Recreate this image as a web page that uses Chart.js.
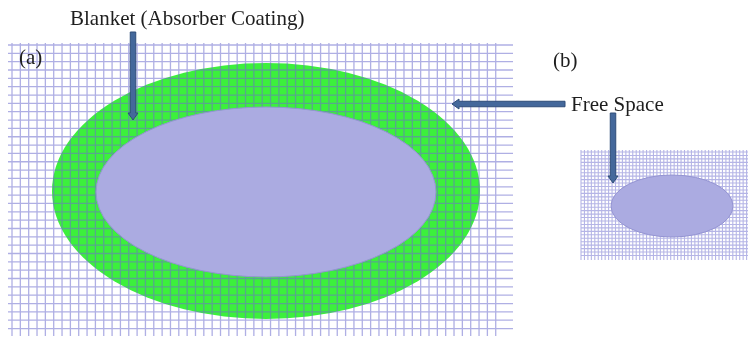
<!DOCTYPE html>
<html>
<head>
<meta charset="utf-8">
<script src="https://cdn.jsdelivr.net/npm/chart.js@4/dist/chart.umd.min.js"></script>
<style>
  html, body { margin: 0; padding: 0; background: #ffffff; }
  #wrap { width: 748px; height: 340px; }
</style>
</head>
<body>
<div id="wrap"><canvas id="c" width="748" height="340"></canvas></div>
<script>
// Panel labels and callout texts
const panelLabels = ['(a)', '(b)'];
const calloutTexts = ['Blanket (Absorber Coating)', 'Free Space'];

// Mesh extents per panel: [xStart, xEnd, yStart, yEnd, cell]
const meshA = [12, 504, 45, 334, 8.34];
const meshB = [581, 748, 152, 258, 3.45];

// Regions: [cx, cy, rx, ry]
const blanketRegion = [266, 191, 214, 128];
const scatterRegionA = [266, 192, 170, 85];
const scatterRegionB = [672, 206, 61, 31];

// Arrows: [x1, y1, x2, y2] (tail -> tip)
const arrows = [
  [133, 32, 133, 120],
  [565, 104, 452, 104],
  [613, 113, 613, 183]
];

// Build a mesh as one polyline with gaps between its segments
function meshPoints(m, hExtra) {
  const [x0, x1, y0, y1, cell] = m;
  const pts = [];
  for (let x = x0; x <= x1 + 0.01; x += cell) {
    pts.push({x: x, y: y0 - 2}, {x: x, y: y1 + 2}, {x: x, y: null});
  }
  for (let y = y0; y <= y1 + 0.01; y += cell) {
    pts.push({x: x0 - hExtra[0], y: y}, {x: x1 + hExtra[1], y: y}, {x: x1, y: null});
  }
  return pts;
}

function ellipse(ctx, chart, e, fill, stroke) {
  const sx = chart.scales.x, sy = chart.scales.y;
  const cx = sx.getPixelForValue(e[0]), cy = sy.getPixelForValue(e[1]);
  const rx = Math.abs(sx.getPixelForValue(e[0] + e[2]) - cx);
  const ry = Math.abs(sy.getPixelForValue(e[1] + e[3]) - cy);
  ctx.beginPath();
  ctx.ellipse(cx, cy, rx, ry, 0, 0, Math.PI * 2);
  ctx.fillStyle = fill;
  ctx.fill();
  if (stroke) { ctx.strokeStyle = stroke; ctx.lineWidth = 1; ctx.stroke(); }
}

function arrow(ctx, chart, a) {
  const sx = chart.scales.x, sy = chart.scales.y;
  const x1 = sx.getPixelForValue(a[0]), y1 = sy.getPixelForValue(a[1]);
  const x2 = sx.getPixelForValue(a[2]), y2 = sy.getPixelForValue(a[3]);
  const ang = Math.atan2(y2 - y1, x2 - x1);
  const len = Math.hypot(x2 - x1, y2 - y1);
  const shaft = 5.5, headW = 10, headL = 7;
  ctx.save();
  ctx.translate(x1, y1);
  ctx.rotate(ang);
  ctx.beginPath();
  ctx.moveTo(0, -shaft / 2);
  ctx.lineTo(len - headL, -shaft / 2);
  ctx.lineTo(len - headL, -headW / 2);
  ctx.lineTo(len, 0);
  ctx.lineTo(len - headL, headW / 2);
  ctx.lineTo(len - headL, shaft / 2);
  ctx.lineTo(0, shaft / 2);
  ctx.closePath();
  ctx.fillStyle = '#44689b';
  ctx.fill();
  ctx.strokeStyle = '#2f4d78';
  ctx.lineWidth = 1;
  ctx.stroke();
  ctx.restore();
}

const diagramPlugin = {
  id: 'diagram',
  beforeDatasetsDraw(chart) {
    const ctx = chart.ctx;
    ctx.save();
    ellipse(ctx, chart, blanketRegion, '#3cf03c', null);
    ctx.restore();
  },
  afterDatasetsDraw(chart) {
    const ctx = chart.ctx;
    const sx = chart.scales.x, sy = chart.scales.y;
    ctx.save();
    ellipse(ctx, chart, scatterRegionA, '#ababe1', '#9494d2');
    ellipse(ctx, chart, scatterRegionB, '#ababe1', '#9494d2');
    arrows.forEach(a => arrow(ctx, chart, a));
    ctx.fillStyle = '#1e1e1e';
    ctx.textBaseline = 'alphabetic';
    ctx.font = '21px "Liberation Serif", "DejaVu Serif", serif';
    ctx.fillText(panelLabels[0], sx.getPixelForValue(19), sy.getPixelForValue(64));
    ctx.fillText(panelLabels[1], sx.getPixelForValue(553), sy.getPixelForValue(67));
    ctx.fillText(calloutTexts[0], sx.getPixelForValue(70), sy.getPixelForValue(25));
    ctx.fillText(calloutTexts[1], sx.getPixelForValue(571), sy.getPixelForValue(111));
    ctx.restore();
  }
};

new Chart(document.getElementById('c'), {
  type: 'scatter',
  data: {
    datasets: [
      {
        data: meshPoints(meshA, [4, 9]),
        showLine: true,
        spanGaps: false,
        borderColor: 'rgba(110, 110, 205, 0.55)',
        borderWidth: 1.3,
        pointRadius: 0,
        fill: false
      },
      {
        data: meshPoints(meshB, [0, 0]),
        showLine: true,
        spanGaps: false,
        borderColor: 'rgba(120, 120, 210, 0.55)',
        borderWidth: 1.1,
        pointRadius: 0,
        fill: false
      }
    ]
  },
  options: {
    responsive: false,
    animation: false,
    devicePixelRatio: 1,
    layout: { padding: 0 },
    plugins: { legend: { display: false }, tooltip: { enabled: false } },
    events: [],
    scales: {
      x: { type: 'linear', min: 0, max: 748, display: false },
      y: { type: 'linear', min: 0, max: 340, reverse: true, display: false }
    }
  },
  plugins: [diagramPlugin]
});
</script>
</body>
</html>
